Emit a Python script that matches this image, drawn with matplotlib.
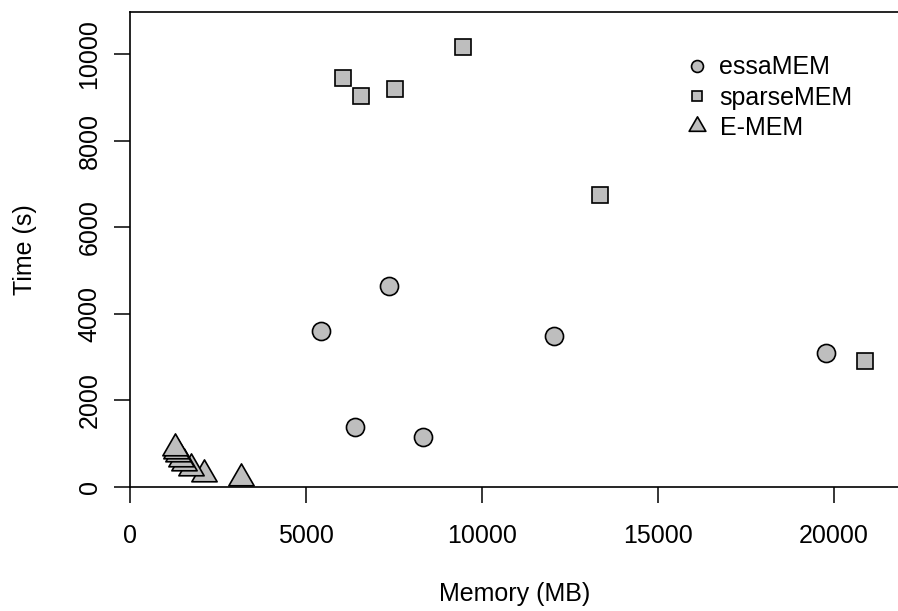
import matplotlib
matplotlib.use("Agg")
import matplotlib.pyplot as plt
from matplotlib.path import Path

plt.rcParams["font.family"] = ["Liberation Sans", "DejaVu Sans"]
plt.rcParams["font.size"] = 18

# memory (MB) vs time (s) for each tool
essa_mem = [5417, 6383, 7349, 8314, 12036, 19764]
essa_time = [3603, 1393, 4649, 1147, 3480, 3088]

sparse_mem = [6061, 6553, 7528, 9470, 13361, 20880]
sparse_time = [9439, 9023, 9192, 10169, 6744, 2910]

emem_mem = [3153, 2102, 1733, 1534, 1457, 1372, 1298, 1270]
emem_time = [215, 307, 439, 554, 654, 753, 831, 908]

x_ticks = [0, 5000, 10000, 15000, 20000]
y_ticks = [0, 2000, 4000, 6000, 8000, 10000]

W, H = 898, 611
fig = plt.figure(figsize=(W / 100, H / 100), dpi=100)
left, right, top, bottom = 130, 900, 12, 487
ax = fig.add_axes([left / W, 1 - bottom / H, (right - left) / W, (bottom - top) / H])

fill = "#bebebe"
# triangle centred on its centroid, like R's pch 24
tri = Path([(0, 1), (-0.866, -0.5), (0.866, -0.5), (0, 1)],
           [Path.MOVETO, Path.LINETO, Path.LINETO, Path.CLOSEPOLY])

ax.plot(essa_mem, essa_time, "o", ms=13, mfc=fill, mec="black", mew=1.2, ls="none",
        label="essaMEM", clip_on=False)
ax.plot(sparse_mem, sparse_time, "s", ms=11.5, mfc=fill, mec="black", mew=1.2, ls="none",
        label="sparseMEM", clip_on=False)
ax.plot(emem_mem, emem_time, marker=tri, ms=21, mfc=fill, mec="black", mew=1.2, ls="none",
        label="E-MEM", clip_on=False)

ax.set_xlim(0, (right - left) / 0.0352)
ax.set_ylim(0, (bottom - top) / 0.0433)
ax.set_xticks(x_ticks)
ax.set_yticks(y_ticks)
ax.set_yticklabels([str(v) for v in y_ticks], rotation=90, va="center")
ax.tick_params(axis="both", length=11.5, width=1.1, direction="out")
ax.tick_params(axis="x", pad=15)
ax.tick_params(axis="y", pad=9)
for s in ax.spines.values():
    s.set_linewidth(1.2)

ax.set_xlabel("Memory (MB)")
ax.set_ylabel("Time (s)")
ax.xaxis.set_label_coords(0.5, (bottom - 594) / (bottom - top))
ax.xaxis.label.set_va("center")
ax.yaxis.set_label_coords((25 - left) / (right - left), 0.5)
ax.yaxis.label.set_va("center")

ax.legend(loc="upper left", bbox_to_anchor=(684.5 / W, 1 - 55.5 / H),
          bbox_transform=fig.transFigure, frameon=False, markerscale=0.66,
          borderpad=0, borderaxespad=0, handlelength=1.0, handletextpad=0.4,
          labelspacing=0.25, fontsize=18)

fig.savefig("out.png", dpi=100)
